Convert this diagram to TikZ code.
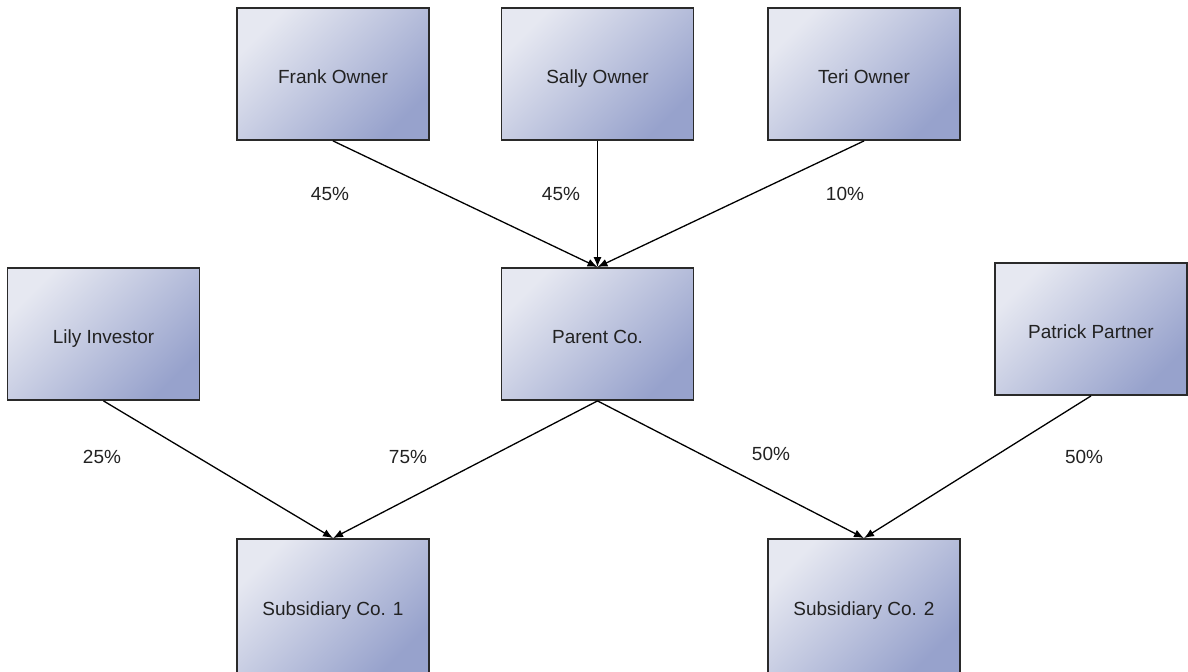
\documentclass[tikz,border=0pt]{standalone}
\usepackage{fontspec}
\setmainfont{Liberation Sans}
\usetikzlibrary{arrows.meta}
\definecolor{boxlight}{HTML}{E6E8F1}
\definecolor{boxdark}{HTML}{97A2CC}
\definecolor{boxline}{HTML}{2A2A2A}
\definecolor{inktext}{HTML}{222222}

\begin{document}
\begin{tikzpicture}[x=0.5pt,y=-0.5pt,
	holder/.style={draw=boxline, line width=0.9pt, minimum width=96pt, minimum height=66pt,
		top color=boxlight, bottom color=boxdark, shading angle=45,
		text=inktext, font=\fontsize{9.5}{11}\selectfont,
		text height=9.5pt, text depth=0pt},
	share/.style={text=inktext, font=\fontsize{9.5}{11}\selectfont},
	own/.style={-{Latex[length=5pt,width=4pt]}, line width=0.65pt, black}]
	\useasboundingbox (0,0) rectangle (1188,671);

	% owners
	\node[holder] (frank) at (333,74) {Frank Owner};
	\node[holder] (sally) at (597.5,74) {Sally Owner};
	\node[holder] (teri) at (864,74) {Teri Owner};

	% middle row
	\node[holder] (lily) at (103.5,334) {Lily Investor};
	\node[holder] (parent) at (597.5,334) {Parent Co.};
	\node[holder] (patrick) at (1091,329) {Patrick Partner};

	% subsidiaries
	\node[holder, minimum height=67pt] (subone) at (333,606) {Subsidiary Co. 1};
	\node[holder, minimum height=67pt] (subtwo) at (864,606) {Subsidiary Co. 2};

	\draw[own] (frank.south) -- (parent.north);
	\draw[own] (sally.south) -- (parent.north);
	\draw[own] (teri.south) -- (parent.north);
	\draw[own] (lily.south) -- (subone.north);
	\draw[own] (parent.south) -- (subone.north);
	\draw[own] (parent.south) -- (subtwo.north);
	\draw[own] (patrick.south) -- (subtwo.north);

	\node[share] (pfrank) at (330,194) {45\%};
	\node[share] (psally) at (561,194) {45\%};
	\node[share] (pteri) at (845,194) {10\%};
	\node[share] (plily) at (102,457) {25\%};
	\node[share] (pparentone) at (408,457) {75\%};
	\node[share] (pparenttwo) at (771,454) {50\%};
	\node[share] (ppatrick) at (1084,457) {50\%};
\end{tikzpicture}
\end{document}
